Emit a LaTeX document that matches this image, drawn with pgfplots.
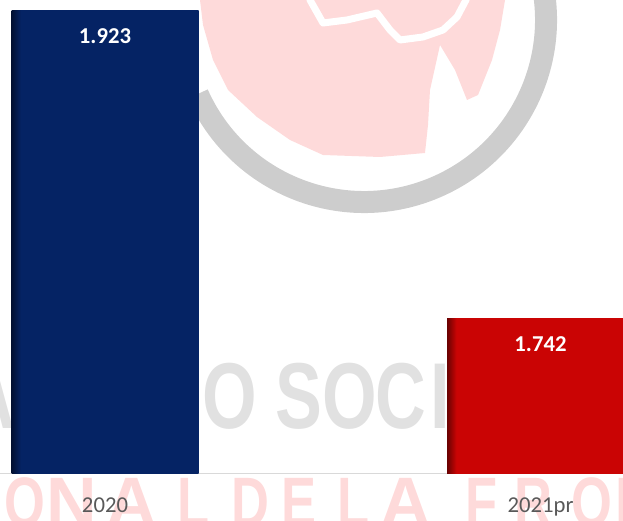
\documentclass[border=0pt]{standalone}
\usepackage{pgfplots}
\pgfplotsset{compat=1.18}
\usepackage{fontspec}
\setmainfont{Carlito}
\newfontfamily\wmfont[FakeStretch=0.75]{Liberation Sans}
\newfontfamily\wmwide[FakeStretch=1.0]{Liberation Sans}
\definecolor{navybar}{RGB}{5,35,100}
\definecolor{navydark}{RGB}{2,16,50}
\definecolor{redbar}{RGB}{202,4,4}
\definecolor{reddark}{RGB}{105,2,2}
\definecolor{wmgray}{RGB}{225,225,225}
\definecolor{ringgray}{RGB}{205,205,205}
\definecolor{wmpink}{RGB}{254,218,218}
\definecolor{ticklab}{RGB}{89,89,89}
\definecolor{axisgray}{RGB}{217,217,217}
\pgfdeclarehorizontalshading{navyshade}{100bp}{color(0bp)=(navydark); color(25bp)=(navydark); color(27.5bp)=(navybar); color(100bp)=(navybar)}
\pgfdeclarehorizontalshading{redshade}{100bp}{color(0bp)=(reddark); color(25bp)=(reddark); color(27.5bp)=(redbar); color(100bp)=(redbar)}
\pgfdeclarelayer{bg}
\pgfsetlayers{bg,main}
\begin{document}
\begin{tikzpicture}
% ---- chart ----
\begin{axis}[
  scale only axis, width=623pt, height=473.5pt,
  xmin=-0.2411, xmax=1.1894, ymin=1.6509, ymax=1.9289,
  axis y line=none, axis x line=bottom,
  axis line style={-},
  x axis line style={draw=axisgray, line width=1.5pt},
  xtick={0,1}, xticklabels={2020,2021pr},
  major tick length=0pt, ytick=\empty,
  xticklabel style={anchor=base, yshift=-39.5pt, text=ticklab, font=\fontsize{22.7}{22.7}\selectfont},
  ybar, bar width=187pt,
  /pgf/number format/assume math mode=true,
  nodes near coords={\pgfmathprintnumber[fixed,precision=3,zerofill]{\pgfplotspointmeta}},
  every node near coord/.append style={anchor=base, yshift=-33.5pt, text=white, font=\bfseries\fontsize{22.7}{22.7}\selectfont},
]
\addplot[draw=none, shading=navyshade, bar shift=0pt] coordinates {(0,1.923)};
\addplot[draw=none, shading=redshade, bar shift=0pt] coordinates {(1,1.742)};
\coordinate (BL) at (rel axis cs:0,0);
\coordinate (TR) at (rel axis cs:1,1);
\end{axis}
% ---- watermark (background layer) ----
\begin{pgfonlayer}{bg}
\begin{scope}[shift={(BL)}, yshift=-47.5pt, x=1pt, y=1pt]
\fill[wmpink] (200,530) -- (200,521) -- (203,496) -- (213,461) -- (228,431) -- (257,404) -- (290,381) -- (323,366) -- (380,364) -- (425,368) -- (428,396) -- (430,431) -- (440,476) -- (455,451) -- (467,421) -- (478,426) -- (492,461) -- (500,491) -- (505,521) -- (505,530) -- cycle;
\draw[white, line width=7pt, line join=round] (310,530) -- (310,521) -- (323,498) -- (347,501) -- (377,508) -- (390,491) -- (400,481) -- (423,484) -- (443,491) -- (457,504) -- (466,521) -- (468,530);
\draw[ringgray, line width=22pt] (364,501) ++(204:182) arc[start angle=204, end angle=380, radius=182];
\begin{scope}[every node/.style={inner sep=0pt, anchor=base, text=wmgray, font=\wmfont\bfseries\fontsize{93.6}{93.6}\selectfont}]
\node at (-10,92) {A};
\node at (230,92) {O};
\node at (299,92) {S};
\node at (349.5,92) {O};
\node at (401,92) {C};
\node at (440,92) {I};
\end{scope}
\begin{scope}[every node/.style={inner sep=0pt, anchor=base, text=wmpink, font=\wmfont\bfseries\fontsize{70}{70}\selectfont}]
\node at (25,-6) {O};
\node[font=\wmwide\bfseries\fontsize{70}{70}\selectfont] at (71.5,-6) {N};
\node[font=\wmwide\bfseries\fontsize{70}{70}\selectfont] at (132,-6) {A};
\node at (194,-6) {L};
\node at (250,-6) {D};
\node at (299,-6) {E};
\node at (354,-6) {L};
\node[font=\wmwide\bfseries\fontsize{70}{70}\selectfont] at (406,-6) {A};
\node at (482,-6) {F};
\node at (533,-6) {R};
\node at (592,-6) {O};
\node[font=\wmwide\bfseries\fontsize{70}{70}\selectfont] at (640,-6) {N};
\end{scope}
\end{scope}
\end{pgfonlayer}
\pgfresetboundingbox
\useasboundingbox ([yshift=-47.5pt]BL) rectangle (TR);
\end{tikzpicture}
\end{document}
